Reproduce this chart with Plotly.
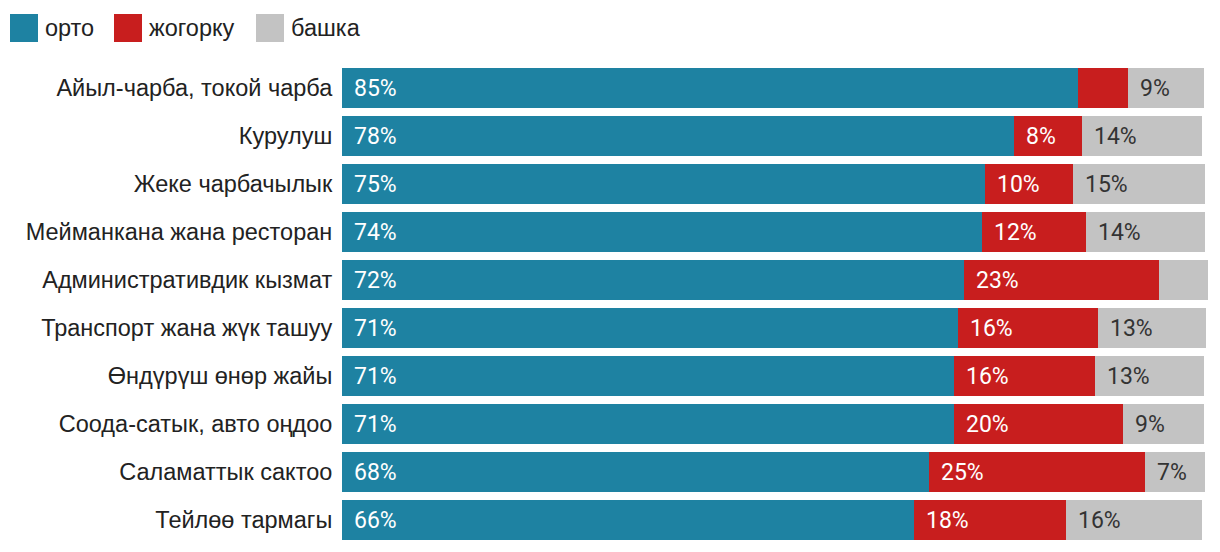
import plotly.graph_objects as go

categories = [
    "Айыл-чарба, токой чарба",
    "Курулуш",
    "Жеке чарбачылык",
    "Мейманкана жана ресторан",
    "Административдик кызмат",
    "Транспорт жана жүк ташуу",
    "Өндүрүш өнөр жайы",
    "Соода-сатык, авто оңдоо",
    "Саламаттык сактоо",
    "Тейлөө тармагы",
]
orto = [85.3, 77.9, 74.6, 74.2, 72.1, 71.4, 70.9, 70.9, 68.1, 66.3]
jogorku = [5.8, 7.9, 10.2, 12.1, 22.6, 16.2, 16.4, 19.7, 25.0, 17.6]
bashka = [8.8, 13.9, 15.3, 13.7, 5.8, 12.6, 12.6, 9.3, 7.0, 15.8]
series_names = ["орто", "жогорку", "башка"]
colors = ["#1e82a2", "#c81e1e", "#c3c3c3"]
text_colors = ["#ffffff", "#ffffff", "#333333"]

# page body has an 8px margin; work in window pixels and shift
OFF = 8
W, H = 1220 - OFF, 552 - OFF
ML, MR, MT, MB = 342 - OFF, 12, 64 - OFF, 8
PW = W - ML - MR
PH = H - MT - MB


def px_x(px):
    return (px - OFF - ML) / PW


def px_y(py):
    return (H - MB - (py - OFF)) / PH


fig = go.Figure()
series = [orto, jogorku, bashka]
for name, vals, col in zip(series_names, series, colors):
    fig.add_trace(go.Bar(
        y=categories, x=vals, name=name, orientation="h",
        marker=dict(color=col, line=dict(width=0)),
        showlegend=False, hoverinfo="x+y+name",
    ))

annotations = []
for i, cat in enumerate(categories):
    start = 0.0
    for vals, tc in zip(series, text_colors):
        v = vals[i]
        if v >= 6.5:
            annotations.append(dict(
                x=start, y=cat, xref="x", yref="y", xanchor="left",
                yanchor="middle", xshift=10, showarrow=False,
                text=f"{round(v)}%",
                font=dict(family="Roboto", size=23, color=tc),
            ))
        start += v

# legend drawn manually
shapes = []
leg_x = [10, 114, 256]
for lx, name, col in zip(leg_x, series_names, colors):
    shapes.append(dict(type="rect", xref="paper", yref="paper",
                       x0=px_x(lx), x1=px_x(lx + 28), y0=px_y(42), y1=px_y(14),
                       fillcolor=col, line=dict(width=0)))
    annotations.append(dict(x=px_x(lx + 33), y=px_y(28), xref="paper", yref="paper",
                            xanchor="left", yanchor="middle", showarrow=False,
                            text=name,
                            font=dict(family="Liberation Sans", size=23.5, color="#222222")))

fig.update_layout(
    width=W, height=H,
    margin=dict(l=ML, r=MR, t=MT, b=MB, pad=0),
    barmode="stack", bargap=1 / 6,
    plot_bgcolor="white", paper_bgcolor="white",
    xaxis=dict(range=[0, 100.4], visible=False, fixedrange=True),
    yaxis=dict(autorange="reversed", showgrid=False, zeroline=False, showline=False,
               ticks="outside", ticklen=4, tickcolor="rgba(0,0,0,0)",
               tickfont=dict(family="Liberation Sans", size=23.5, color="#222222")),
    annotations=annotations, shapes=shapes,
)

fig.write_html("out.html")
